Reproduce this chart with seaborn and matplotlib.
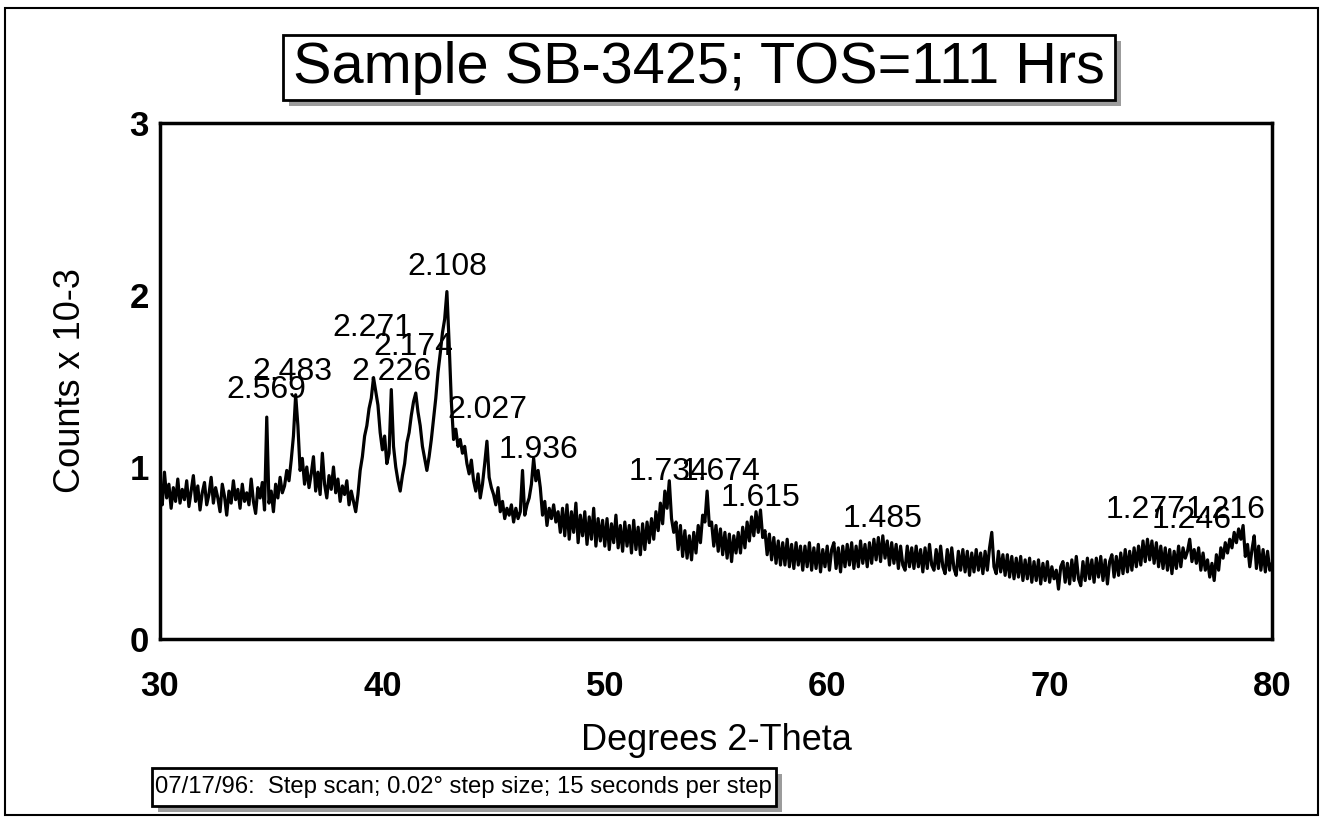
import numpy as np
import pandas as pd
import matplotlib
matplotlib.use("Agg")
import matplotlib.pyplot as plt
from matplotlib.patches import Rectangle
from matplotlib.ticker import MultipleLocator
import seaborn as sns

# ---- data ----
# counts x 10^-3, one row per degree 2-theta (x.0 ... x.9), last value at 80.0
counts = [
    0.84, 0.78, 0.97, 0.82, 0.90, 0.76, 0.88, 0.80, 0.93, 0.79,  # 30
    0.87, 0.81, 0.92, 0.77, 0.86, 0.95, 0.80, 0.89, 0.75, 0.85,  # 31
    0.91, 0.78, 0.84, 0.94, 0.79, 0.88, 0.82, 0.74, 0.90, 0.83,  # 32
    0.72, 0.86, 0.79, 0.92, 0.81, 0.87, 0.76, 0.90, 0.80, 0.85,  # 33
    0.78, 0.93, 0.80, 0.73, 0.88, 0.82, 0.91, 0.75, 1.29, 0.79,  # 34
    0.86, 0.74, 0.90, 0.82, 0.94, 0.85, 0.89, 0.98, 0.92, 1.04,  # 35
    1.18, 1.42, 1.24, 0.98, 1.05, 0.90, 1.00, 0.88, 0.96, 1.06,  # 36
    0.86, 0.97, 0.84, 1.08, 0.90, 0.82, 0.95, 0.87, 1.00, 0.85,  # 37
    0.93, 0.80, 0.89, 0.84, 0.92, 0.78, 0.86, 0.80, 0.74, 0.84,  # 38
    0.98, 1.06, 1.18, 1.24, 1.34, 1.40, 1.52, 1.44, 1.36, 1.20,  # 39
    1.10, 1.18, 1.02, 1.08, 1.45, 1.12, 1.00, 0.92, 0.86, 0.95,  # 40
    1.02, 1.14, 1.20, 1.30, 1.38, 1.43, 1.32, 1.24, 1.12, 1.05,  # 41
    0.98, 1.06, 1.16, 1.28, 1.40, 1.55, 1.66, 1.78, 1.86, 2.02,  # 42
    1.72, 1.38, 1.16, 1.22, 1.12, 1.16, 1.08, 1.12, 1.02, 0.96,  # 43
    1.04, 0.92, 0.86, 0.96, 0.82, 0.90, 1.02, 1.15, 0.94, 0.88,  # 44
    0.84, 0.78, 0.88, 0.74, 0.80, 0.70, 0.76, 0.72, 0.78, 0.68,  # 45
    0.76, 0.70, 0.74, 0.98, 0.72, 0.78, 0.82, 0.90, 1.05, 0.92,  # 46
    0.98, 0.88, 0.72, 0.80, 0.66, 0.76, 0.70, 0.78, 0.68, 0.74,  # 47
    0.62, 0.76, 0.60, 0.78, 0.58, 0.74, 0.62, 0.79, 0.56, 0.72,  # 48
    0.60, 0.74, 0.55, 0.71, 0.58, 0.76, 0.54, 0.70, 0.57, 0.69,  # 49
    0.54, 0.70, 0.52, 0.67, 0.56, 0.72, 0.53, 0.66, 0.51, 0.68,  # 50
    0.54, 0.66, 0.50, 0.69, 0.52, 0.65, 0.49, 0.67, 0.52, 0.68,  # 51
    0.56, 0.70, 0.58, 0.74, 0.63, 0.79, 0.67, 0.86, 0.76, 0.92,  # 52
    0.70, 0.62, 0.68, 0.52, 0.66, 0.48, 0.63, 0.47, 0.60, 0.46,  # 53
    0.62, 0.50, 0.66, 0.56, 0.72, 0.68, 0.86, 0.66, 0.68, 0.54,  # 54
    0.66, 0.51, 0.64, 0.49, 0.62, 0.47, 0.61, 0.45, 0.60, 0.50,  # 55
    0.62, 0.50, 0.65, 0.53, 0.68, 0.57, 0.71, 0.60, 0.74, 0.62,  # 56
    0.75, 0.59, 0.63, 0.49, 0.61, 0.46, 0.59, 0.44, 0.57, 0.43,  # 57
    0.56, 0.43, 0.58, 0.42, 0.55, 0.41, 0.56, 0.43, 0.54, 0.40,  # 58
    0.54, 0.42, 0.56, 0.40, 0.53, 0.41, 0.55, 0.39, 0.52, 0.42,  # 59
    0.54, 0.40, 0.52, 0.56, 0.41, 0.53, 0.39, 0.54, 0.42, 0.55,  # 60
    0.43, 0.56, 0.41, 0.54, 0.42, 0.57, 0.44, 0.55, 0.42, 0.56,  # 61
    0.44, 0.58, 0.46, 0.59, 0.45, 0.60, 0.47, 0.57, 0.43, 0.56,  # 62
    0.44, 0.55, 0.41, 0.54, 0.43, 0.40, 0.54, 0.42, 0.53, 0.41,  # 63
    0.54, 0.42, 0.52, 0.39, 0.53, 0.41, 0.55, 0.43, 0.40, 0.52,  # 64
    0.41, 0.54, 0.42, 0.38, 0.52, 0.40, 0.53, 0.41, 0.37, 0.51,  # 65
    0.40, 0.52, 0.39, 0.51, 0.37, 0.50, 0.39, 0.52, 0.40, 0.50,  # 66
    0.38, 0.51, 0.40, 0.53, 0.62, 0.42, 0.38, 0.51, 0.39, 0.49,  # 67
    0.37, 0.49, 0.36, 0.48, 0.35, 0.47, 0.36, 0.48, 0.34, 0.46,  # 68
    0.35, 0.47, 0.33, 0.45, 0.34, 0.46, 0.32, 0.44, 0.34, 0.45,  # 69
    0.33, 0.42, 0.35, 0.40, 0.29, 0.42, 0.45, 0.33, 0.44, 0.32,  # 70
    0.46, 0.34, 0.48, 0.35, 0.31, 0.45, 0.34, 0.47, 0.35, 0.46,  # 71
    0.33, 0.47, 0.36, 0.48, 0.34, 0.46, 0.32, 0.45, 0.49, 0.36,  # 72
    0.48, 0.37, 0.50, 0.38, 0.52, 0.39, 0.51, 0.40, 0.53, 0.42,  # 73
    0.54, 0.43, 0.57, 0.45, 0.58, 0.46, 0.57, 0.44, 0.56, 0.42,  # 74
    0.54, 0.41, 0.53, 0.40, 0.52, 0.38, 0.51, 0.41, 0.54, 0.42,  # 75
    0.53, 0.47, 0.51, 0.58, 0.45, 0.52, 0.44, 0.53, 0.40, 0.50,  # 76
    0.40, 0.46, 0.36, 0.44, 0.34, 0.49, 0.40, 0.53, 0.47, 0.56,  # 77
    0.50, 0.58, 0.53, 0.62, 0.56, 0.64, 0.58, 0.66, 0.48, 0.55,  # 78
    0.42, 0.52, 0.60, 0.41, 0.54, 0.40, 0.52, 0.39, 0.51, 0.40,  # 79
    0.44,                                                        # 80
]
two_theta = np.round(30.0 + 0.1 * np.arange(len(counts)), 1)

peak_labels = ["2.569", "2.483", "2.271", "2.226", "2.174", "2.108", "2.027",
               "1.936", "1.734", "1.674", "1.615", "1.485", "1.277", "1.246", "1.216"]
peak_label_x = [34.77, 35.96, 39.57, 40.40, 41.40, 42.90, 44.70,
                47.00, 52.85, 55.20, 57.00, 62.50, 74.33, 76.40, 77.90]
peak_label_y = [1.45, 1.55, 1.81, 1.55, 1.70, 2.16, 1.33,
                1.10, 0.97, 0.97, 0.82, 0.70, 0.75, 0.69, 0.75]

x_ticks = [30, 40, 50, 60, 70, 80]
y_ticks = [0, 1, 2, 3]

title_text = "Sample SB-3425; TOS=111 Hrs"
footer_text = "07/17/96:  Step scan; 0.02\u00b0 step size; 15 seconds per step"
x_label = "Degrees 2-Theta"
y_label = "Counts x 10-3"

# ---- drawing ----
sns.set_style("white")
plt.rcParams["font.family"] = ["Liberation Sans", "DejaVu Sans"]
plt.rcParams["text.color"] = "black"
plt.rcParams["axes.labelcolor"] = "black"
plt.rcParams["xtick.color"] = "black"
plt.rcParams["ytick.color"] = "black"

W, H = 1323, 823
fig = plt.figure(figsize=(W / 100, H / 100), dpi=100)
fig.patch.set_facecolor("white")

ax = fig.add_axes([160 / W, 1 - 639 / H, (1272 - 160) / W, (639 - 123) / H])

df = pd.DataFrame({"two_theta": two_theta, "counts": counts})
sns.lineplot(data=df, x="two_theta", y="counts", color="black", lw=2.3,
             estimator=None, sort=False, ax=ax)

ax.set_xlim(30, 80)
ax.set_ylim(0, 3)
ax.set_xticks(x_ticks)
ax.set_yticks(y_ticks)
ax.xaxis.set_minor_locator(MultipleLocator(2))
ax.yaxis.set_minor_locator(MultipleLocator(0.1))
ax.tick_params(which="major", direction="in", length=14, width=2,
               top=False, right=False, colors="black")
ax.tick_params(which="minor", direction="in", length=8, width=1.5,
               top=False, right=False, colors="black")
ax.tick_params(axis="x", which="major", pad=22, labelsize=25)
ax.tick_params(axis="y", which="major", pad=8, labelsize=25)
for lab in ax.get_xticklabels() + ax.get_yticklabels():
    lab.set_fontweight("bold")
for s in ax.spines.values():
    s.set_color("black")
    s.set_linewidth(2.5)

ax.set_xlabel(x_label, fontsize=26, color="black")
ax.set_ylabel(y_label, fontsize=26, color="black")
ax.xaxis.set_label_coords(0.5, (639 - 740) / 516)
ax.xaxis.label.set_va("center")
ax.yaxis.set_label_coords((70 - 160) / 1112, 0.5)
ax.yaxis.label.set_va("center")

for lab, px, py in zip(peak_labels, peak_label_x, peak_label_y):
    ax.text(px, py, lab, ha="center", va="center", fontsize=23, color="black")


def boxed(x0, y0, x1, y1, text, tx, ty, size, ha):
    f0, f1 = x0 / W, x1 / W
    g0, g1 = 1 - y1 / H, 1 - y0 / H
    sh = 6
    fig.add_artist(Rectangle((f0 + sh / W, g0 - sh / H), f1 - f0, g1 - g0,
                             transform=fig.transFigure, facecolor="#9c9c9c",
                             edgecolor="none", zorder=5))
    fig.add_artist(Rectangle((f0, g0), f1 - f0, g1 - g0,
                             transform=fig.transFigure, facecolor="white",
                             edgecolor="black", lw=2, zorder=6))
    fig.text(tx / W, 1 - ty / H, text, ha=ha, va="center", fontsize=size,
             color="black", zorder=7)


boxed(283, 35, 1115, 100, title_text, 699, 68, 41.5, "center")
boxed(152, 768, 776, 806, footer_text, 155, 787, 17.2, "left")

# outer frame
fig.add_artist(Rectangle((5 / W, 1 - 815 / H), (1318 - 5) / W, (815 - 8) / H,
                         transform=fig.transFigure, facecolor="none",
                         edgecolor="black", lw=1.5, zorder=10))

fig.savefig("out.png", dpi=100)
